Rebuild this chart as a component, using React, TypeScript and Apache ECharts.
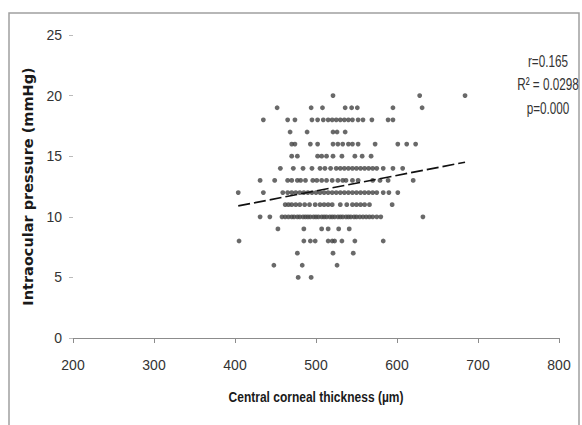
import React, { useEffect, useRef } from "react";
import * as echarts from "echarts";

// IOP levels (mmHg) and the CCT values (µm) observed at each level
const iopLevels = [20, 19, 18, 17, 16, 15, 14, 13, 12, 11, 10, 9, 8, 7, 6, 5];
const cct20 = [521, 628, 684];
const cct19 = [452, 494, 508, 536, 544, 551, 595, 631];
const cct18 = [435, 465, 474, 495, 502, 509, 515, 520, 525, 530, 535, 540, 545, 552, 558, 569, 589, 595];
const cct17 = [468, 489, 521, 526, 536];
const cct16 = [470, 474, 493, 502, 521, 527, 533, 540, 545, 552, 573, 601, 612, 623];
const cct15 = [470, 477, 502, 507, 513, 521, 532, 548, 557, 568];
const cct14 = [456, 472, 484, 495, 505, 511, 518, 525, 530, 535, 540, 545, 550, 555, 560, 565, 570, 575, 583, 595, 607];
const cct13 = [431, 449, 465, 470, 477, 481, 487, 496, 501, 507, 513, 520, 527, 533, 537, 545, 552, 570, 579, 589, 620];
const cct12 = [404, 435, 459, 465, 470, 475, 480, 485, 490, 495, 500, 505, 510, 515, 520, 525, 530, 535, 540, 545, 550, 555, 560, 565, 570, 575, 583, 590, 601];
const cct11 = [462, 466, 470, 475, 480, 486, 492, 499, 505, 510, 515, 520, 530, 538, 545, 550, 555, 560, 566, 594];
const cct10 = [431, 443, 458, 462, 466, 470, 473, 477, 480, 484, 487, 490, 493, 497, 500, 503, 507, 510, 513, 517, 520, 523, 527, 530, 533, 537, 540, 543, 547, 550, 554, 558, 562, 566, 570, 575, 580, 632];
const cct9 = [453, 485, 507, 515, 528, 541];
const cct8 = [405, 485, 493, 499, 515, 520, 523, 532, 548, 583];
const cct7 = [477, 521, 546];
const cct6 = [448, 483, 526];
const cct5 = [478, 494];
const cctByLevel = [cct20, cct19, cct18, cct17, cct16, cct15, cct14, cct13, cct12, cct11, cct10, cct9, cct8, cct7, cct6, cct5];

// linear trend line endpoints [CCT, IOP]
const trendLine = [
  [404, 10.9],
  [684, 14.5],
];

const statsLines = ["r=0.165", "R² = 0.0298", "p=0.000"];
const xAxisTitle = "Central corneal thickness (µm)";
const yAxisTitle = "Intraocular pressure (mmHg)";

const sans = "'Liberation Sans', Arial, sans-serif";

export default function App() {
  const ref = useRef<HTMLDivElement>(null);
  useEffect(() => {
    if (!ref.current) return;
    const chart = echarts.init(ref.current, null, { renderer: "svg" });
    const points: number[][] = [];
    iopLevels.forEach((lvl, i) => {
      cctByLevel[i].forEach((c) => points.push([c, lvl]));
    });
    chart.setOption({
      animation: false,
      backgroundColor: "#ffffff",
      grid: { left: 73, right: 23, top: 35, bottom: 87, containLabel: false },
      xAxis: {
        type: "value",
        min: 200,
        max: 800,
        interval: 100,
        axisLine: { show: true, lineStyle: { color: "#8c8c8c", width: 1 } },
        axisTick: { show: true, length: 5, lineStyle: { color: "#8c8c8c" } },
        axisLabel: { margin: 20, fontFamily: sans, fontSize: 14, color: "#333" },
        splitLine: { show: false },
      },
      yAxis: {
        type: "value",
        min: 0,
        max: 25,
        interval: 5,
        name: yAxisTitle,
        nameLocation: "middle",
        nameGap: 18,
        nameTextStyle: { fontFamily: "'DejaVu Sans', sans-serif", fontWeight: "bold", fontSize: 14.5, color: "#1a1a1a" },
        axisLine: { show: false },
        axisTick: { show: true, length: 4, lineStyle: { color: "#bbbbbb" } },
        axisLabel: { margin: 11, fontFamily: sans, fontSize: 14, color: "#333" },
        splitLine: { show: false },
      },
      series: [
        {
          type: "scatter",
          data: points,
          symbol: "circle",
          symbolSize: 4.8,
          itemStyle: { color: "#444" },
        },
        {
          type: "line",
          data: trendLine,
          symbol: "none",
          lineStyle: { color: "#111", width: 1.6, type: [12, 4] },
        },
      ],
      graphic: [
        {
          type: "rect",
          shape: { x: 9, y: 13, width: 570, height: 420 },
          style: { fill: "none", stroke: "#a0a0a0", lineWidth: 1.5 },
          silent: true,
        },
        {
          type: "text",
          x: 316,
          y: 397,
          scaleX: 0.8,
          style: {
            text: xAxisTitle,
            fontFamily: sans,
            fontWeight: "bold",
            fontSize: 15,
            fill: "#1a1a1a",
            align: "center",
            verticalAlign: "middle",
          },
        },
        ...statsLines.map((t, i) => ({
          type: "text",
          x: 548,
          y: 61 + i * 23.5,
          scaleX: 0.69,
          style: {
            text: t,
            fontFamily: sans,
            fontSize: 17,
            fill: "#333",
            align: "center",
            verticalAlign: "middle",
          },
        })),
      ],
    });
    return () => chart.dispose();
  }, []);
  return <div ref={ref} style={{ position: "fixed", left: 0, top: 0, width: 582, height: 425 }} />;
}
